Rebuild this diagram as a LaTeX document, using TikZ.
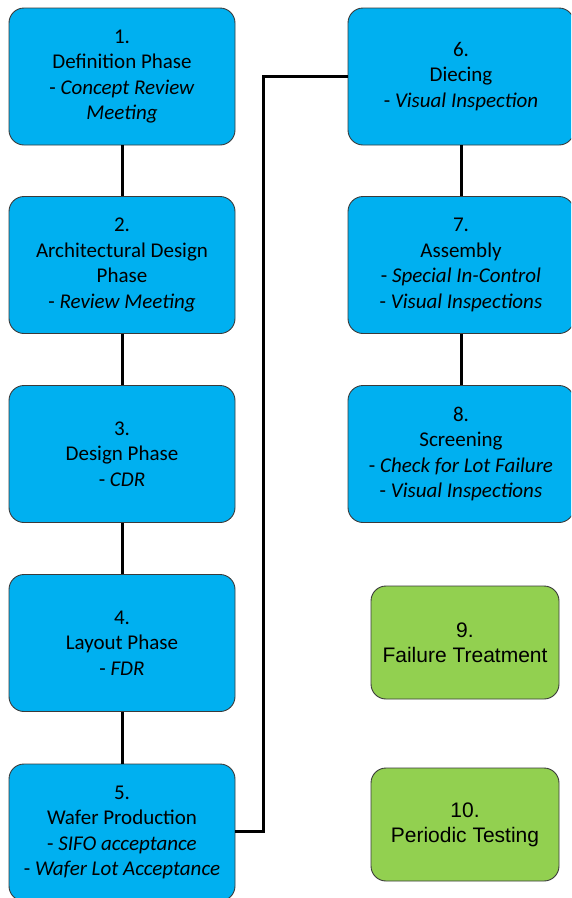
\documentclass[tikz,border=0pt]{standalone}
\usepackage{fontspec}
\setmainfont{Carlito}
\newfontfamily\arialfont{Liberation Sans}
\definecolor{phaseblue}{HTML}{00B0F0}
\definecolor{treatgreen}{HTML}{92D050}
\definecolor{boxedge}{HTML}{3A3A3A}
\begin{document}
\begin{tikzpicture}[x=1pt,y=-1pt,
  phase/.style={draw=boxedge, line width=0.9pt, fill=phaseblue, rounded corners=15pt,
    minimum width=226pt, minimum height=137pt, inner sep=0pt, align=center,
    font=\fontsize{21}{25.6}\selectfont},
  extra/.style={draw=boxedge, line width=0.9pt, fill=treatgreen, rounded corners=15pt,
    minimum width=188pt, minimum height=113pt, inner sep=0pt, align=center,
    font=\arialfont\fontsize{21}{25}\selectfont},
  link/.style={draw=black, line width=3pt}]
\useasboundingbox (0,0) rectangle (571,898);
\clip (0,0) rectangle (571,898);

% left column
\node[phase] (p1) at (122,76.5) {1.\\Definition Phase\\- \textit{Concept Review}\\\textit{Meeting}};
\node[phase] (p2) at (122,265) {2.\\Architectural Design\\Phase\\- \textit{Review Meeting}};
\node[phase] (p3) at (122,454) {3.\\Design Phase\\- \textit{CDR}};
\node[phase] (p4) at (122,643) {4.\\Layout Phase\\- \textit{FDR}};
\node[phase] (p5) at (122,832.5) {5.\\Wafer Production\\- \textit{SIFO acceptance}\\- \textit{Wafer Lot Acceptance}};

% right column
\node[phase] (p6) at (461,76.5) {6.\\Diecing\\- \textit{Visual Inspection}};
\node[phase] (p7) at (461,265) {7.\\Assembly\\- \textit{Special In-Control}\\- \textit{Visual Inspections}};
\node[phase] (p8) at (461,454) {8.\\Screening\\- \textit{Check for Lot Failure}\\- \textit{Visual Inspections}};

% supporting activities
\node[extra] (t9) at (465,642.5) {9.\\Failure Treatment};
\node[extra] (t10) at (465,824.5) {10.\\Periodic Testing};

% connectors
\draw[link] (p1) -- (p2);
\draw[link] (p2) -- (p3);
\draw[link] (p3) -- (p4);
\draw[link] (p4) -- (p5);
\coordinate (elbowlow) at (263,831);
\coordinate (elbowhigh) at (263,76.5);
\draw[link] (p5.east |- elbowlow) -- (elbowlow) -- (elbowhigh) -- (p6.west |- elbowhigh);
\draw[link] (p6) -- (p7);
\draw[link] (p7) -- (p8);
\end{tikzpicture}
\end{document}
